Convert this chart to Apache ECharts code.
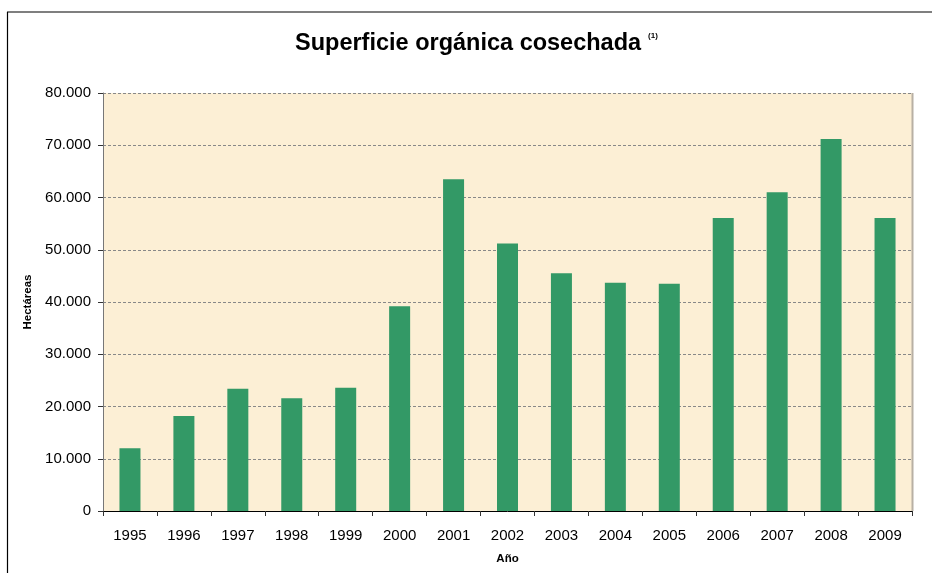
<!DOCTYPE html>
<html><head><meta charset="utf-8">
<script src="https://cdn.jsdelivr.net/npm/echarts@6/dist/echarts.min.js"></script>
<style>html,body{margin:0;padding:0;background:#fff}#c{width:932px;height:573px}</style>
</head><body><div id="c"></div>
<script>
const years = ['1995','1996','1997','1998','1999','2000','2001','2002','2003','2004','2005','2006','2007','2008','2009'];
const hectareas = [12000, 18200, 23400, 21600, 23600, 39200, 63500, 51200, 45500, 43700, 43500, 56100, 61000, 71200, 56100];
const yTicks = [0, 10000, 20000, 30000, 40000, 50000, 60000, 70000, 80000];

const chart = echarts.init(document.getElementById('c'));
const fmt = v => v === 0 ? '0' : String(v).replace(/\B(?=(\d{3})+(?!\d))/g, '.');
chart.setOption({
  animation: false,
  textStyle: {fontFamily: 'Liberation Sans, Arial, sans-serif'},
  title: {
    text: '{t|Superficie orgánica cosechada} {s|(1)}',
    left: 290, top: 27,
    textStyle: {rich: {
      t: {fontSize: 23.5, fontWeight: 'bold', color: '#000', fontFamily: 'Liberation Sans'},
      s: {fontSize: 8, fontWeight: 'bold', color: '#000', fontFamily: 'Liberation Sans', verticalAlign: 'top', padding:[0,0,6,2]}
    }}
  },
  graphic: [
    {type: 'line', shape: {x1: 7, y1: 12, x2: 932, y2: 12}, style: {stroke: '#555', lineWidth: 1.5}},
    {type: 'line', shape: {x1: 7.5, y1: 12, x2: 7.5, y2: 573}, style: {stroke: '#000', lineWidth: 1.2}},
    {type: 'line', shape: {x1: 912.5, y1: 93, x2: 912.5, y2: 511}, style: {stroke: '#b8b0a4', lineWidth: 2}}
  ],
  grid: {left: 103, right: 20, top: 93, bottom: 62, show: true, backgroundColor: '#FCEFD5', borderWidth: 0},
  xAxis: {
    type: 'category', data: years,
    name: 'Año', nameLocation: 'middle', nameGap: 42,
    nameTextStyle: {fontSize: 11.5, fontWeight: 'bold', color: '#000'},
    axisLine: {lineStyle: {color: '#000', width: 1}},
    axisTick: {show: true, alignWithLabel: false, length: 5, lineStyle: {color: '#333'}},
    axisLabel: {fontSize: 15, color: '#000', margin: 17}
  },
  yAxis: {
    type: 'value', min: 0, max: 80000, interval: 10000,
    name: 'Hectáreas', nameLocation: 'middle', nameGap: 66, nameRotate: 90,
    nameTextStyle: {fontSize: 11.5, fontWeight: 'bold', color: '#000'},
    axisLine: {show: true, lineStyle: {color: '#777', width: 1}},
    axisTick: {show: true, length: 5, lineStyle: {color: '#333'}},
    axisLabel: {fontSize: 15, color: '#000', margin: 12, formatter: v => yTicks.includes(v) ? fmt(v) : ''},
    splitLine: {show: true, lineStyle: {color: '#888', type: [3, 2], width: 1}}
  },
  series: [{
    type: 'bar', data: hectareas, barWidth: 21,
    itemStyle: {color: '#339966'}
  }]
});
</script></body></html>
